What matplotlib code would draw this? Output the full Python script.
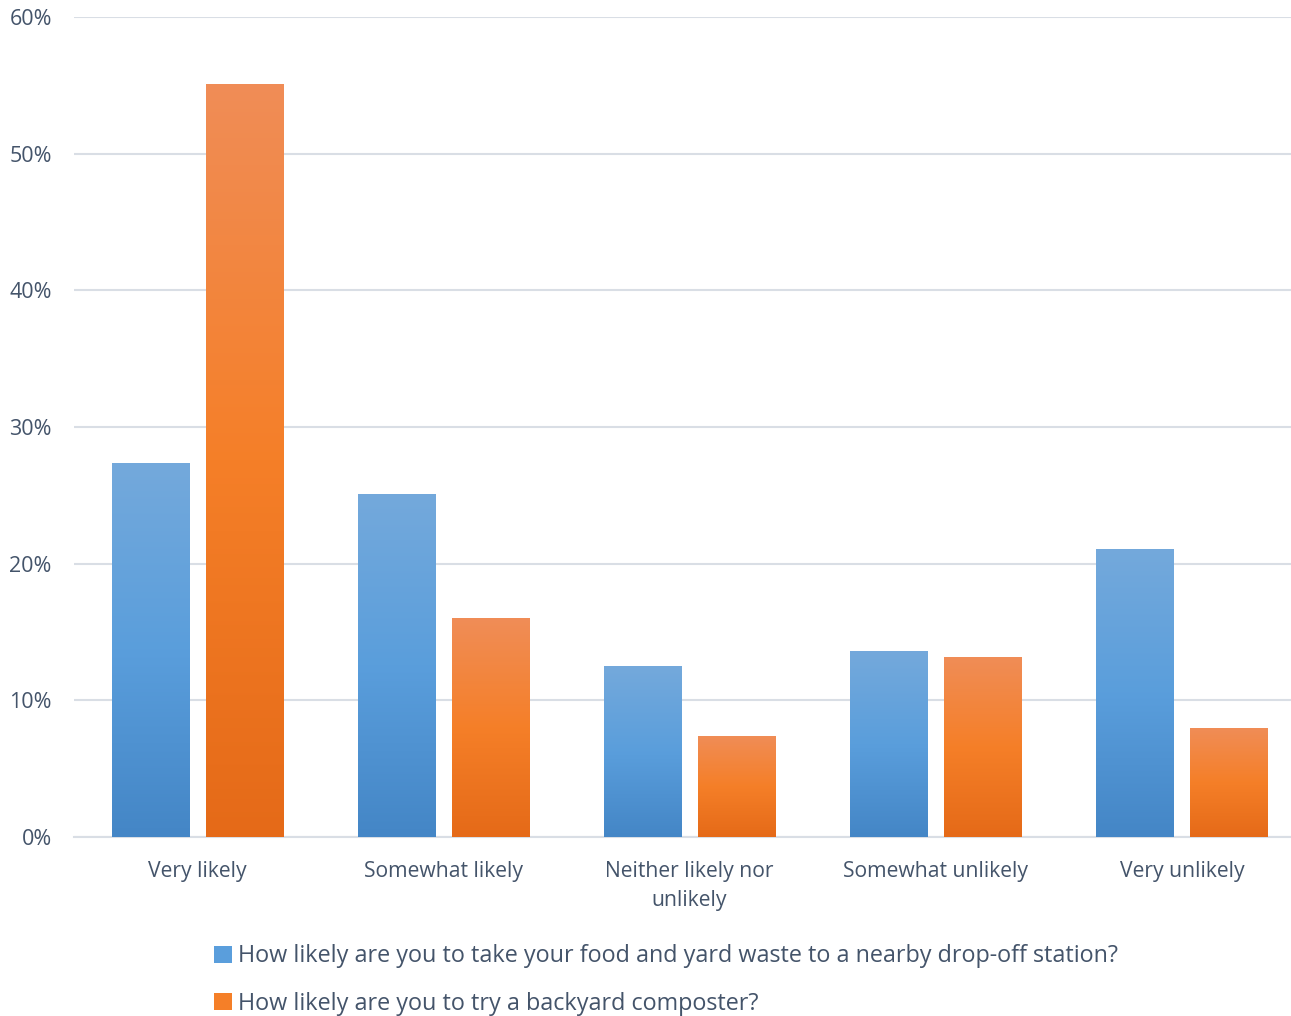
import numpy as np
import matplotlib.pyplot as plt
from matplotlib.colors import LinearSegmentedColormap
from matplotlib.patches import Patch
from matplotlib.ticker import FuncFormatter

plt.rcParams['font.family'] = ['Open Sans', 'DejaVu Sans']

categories = ['Very likely', 'Somewhat likely', 'Neither likely nor\nunlikely',
              'Somewhat unlikely', 'Very unlikely']
dropoff = [27.4, 25.1, 12.5, 13.6, 21.1]
backyard = [55.1, 16.0, 7.4, 13.2, 8.0]
series_names = ['How likely are you to take your food and yard waste to a nearby drop-off station?',
                'How likely are you to try a backyard composter?']

text_col = '#44546a'
blue_cm = LinearSegmentedColormap.from_list('b', ['#4486c6', '#5a9edc', '#74a9db'])
orange_cm = LinearSegmentedColormap.from_list('o', ['#e56a18', '#f57f28', '#f08d57'])

fig = plt.figure(figsize=(12.91, 10.16), dpi=100)
ax = fig.add_axes([74/1291, 179/1016, 1231/1291, 820/1016])

x = np.arange(len(categories))
w = 0.313
off = 0.191
grad = np.linspace(0, 1, 256).reshape(-1, 1)

def gradient_bars(xs, vals, cmap):
    bars = ax.bar(xs, vals, w, color='none', edgecolor='none', zorder=3)
    for b in bars:
        x0, y0 = b.get_x(), b.get_y()
        im = ax.imshow(grad, cmap=cmap, origin='lower', aspect='auto',
                       extent=[x0, x0 + b.get_width(), y0, y0 + b.get_height()],
                       zorder=3)
        im.set_clip_path(b)

gradient_bars(x - off, dropoff, blue_cm)
gradient_bars(x + off, backyard, orange_cm)

ax.set_xlim(-0.5, len(categories) - 0.5)
ax.set_ylim(0, 60)
ax.set_yticks(np.arange(0, 61, 10))
ax.yaxis.set_major_formatter(FuncFormatter(lambda v, p: f'{v:.0f}%'))
ax.grid(axis='y', color='#d9dee5', linewidth=1.5, zorder=0)
ax.set_axisbelow(True)
for s in ['top', 'right', 'left']:
    ax.spines[s].set_visible(False)
ax.spines['bottom'].set_color('#d9dee5')
ax.spines['bottom'].set_linewidth(1.5)
ax.set_xticks(x)
ax.set_xticklabels(categories, fontsize=15.2, color=text_col, linespacing=1.5)
ax.tick_params(axis='x', length=0, pad=17)
ax.tick_params(axis='y', length=0, labelsize=15.5, labelcolor=text_col, pad=16)

handles = [Patch(facecolor='#5a9edc', label=series_names[0]),
           Patch(facecolor='#f57f28', label=series_names[1])]
fig.legend(handles=handles, loc='upper left', bbox_to_anchor=(205/1291, 1 - 935/1016),
           frameon=False, fontsize=16.8, labelcolor=text_col, handlelength=0.75,
           handleheight=0.75, handletextpad=0.25, labelspacing=1.0, borderaxespad=0)

fig.savefig('out.png', dpi=100)
